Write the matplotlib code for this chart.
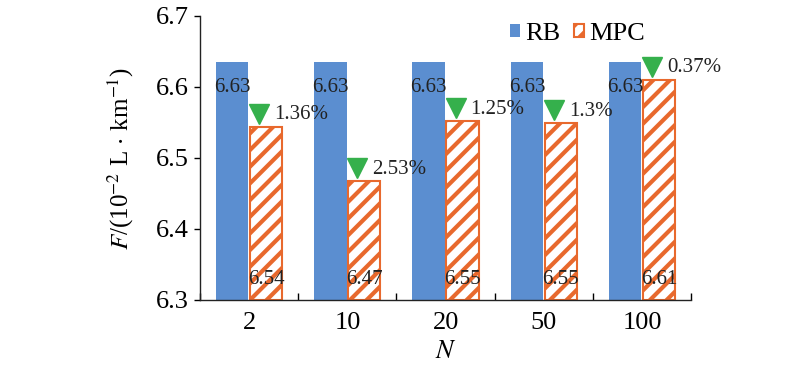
import matplotlib
matplotlib.use("Agg")
import matplotlib.pyplot as plt
import matplotlib.transforms as mtransforms
import numpy as np

# data
categories = ["2", "10", "20", "50", "100"]
rb_values = [6.635, 6.635, 6.635, 6.635, 6.635]
mpc_values = [6.544, 6.467, 6.552, 6.549, 6.610]
rb_labels = ["6.63", "6.63", "6.63", "6.63", "6.63"]
mpc_labels = ["6.54", "6.47", "6.55", "6.55", "6.61"]
savings = ["1.36%", "2.53%", "1.25%", "1.3%", "0.37%"]

blue = "#5B8ED0"
orange = "#E8692D"
green = "#35B04C"

plt.rcParams["font.family"] = ["Liberation Serif", "DejaVu Serif"]
plt.rcParams["mathtext.fontset"] = "stix"
plt.rcParams["hatch.linewidth"] = 3.0
plt.rcParams["hatch.color"] = orange

fig = plt.figure(figsize=(8, 3.71), dpi=100)
ax = fig.add_axes([0.25, 0.1914, 0.614, 0.7655])

x = np.arange(len(categories))
w = 0.33
off = 0.172

ax.bar(x - off, np.array(rb_values) - 6.3, w, bottom=6.3, color=blue, label="RB")
ax.bar(x + off, np.array(mpc_values) - 6.3, w, bottom=6.3, facecolor="white",
       edgecolor=orange, hatch="//", linewidth=1.5, label="MPC")

# value labels
for i in range(len(categories)):
    ax.annotate(rb_labels[i], (x[i] - off, rb_values[i]), xytext=(0, -25),
                textcoords="offset pixels", ha="center", va="center",
                fontsize=15, color="#222222")
    ax.annotate(mpc_labels[i], (x[i] + off, 6.3), xytext=(0, 20),
                textcoords="offset pixels", ha="center", va="center",
                fontsize=15, color="#222222")

# green down triangles with reduction percentages
tri_tr = mtransforms.offset_copy(ax.transData, fig=fig, x=0, y=13, units="dots")
ax.plot(x + off - 0.07, mpc_values, linestyle="none", marker="v", ms=15,
        color=green, transform=tri_tr, clip_on=False)
for i in range(len(categories)):
    ax.annotate(savings[i], (x[i] + off, mpc_values[i]), xytext=(8, 12),
                textcoords="offset pixels", ha="left", va="center",
                fontsize=15, color="#222222")

ax.set_xlim(-0.5, len(categories) - 0.5)
ax.set_ylim(6.3, 6.7)
ax.set_yticks([6.3, 6.4, 6.5, 6.6, 6.7])
ax.set_yticklabels(["6.3", "6.4", "6.5", "6.6", "6.7"])
ax.set_xticks(x)
ax.set_xticklabels(categories)
ax.set_xticks(np.arange(-0.5, len(categories)), minor=True)
ax.tick_params(axis="x", which="major", length=0, pad=9, labelsize=19)
ax.tick_params(axis="x", which="minor", direction="in", length=5, width=1)
ax.tick_params(axis="y", direction="out", length=4, width=1, labelsize=19, pad=4)

for s in ["top", "right"]:
    ax.spines[s].set_visible(False)
for s in ["left", "bottom"]:
    ax.spines[s].set_linewidth(1.0)
    ax.spines[s].set_color("#222222")

ax.set_xlabel(r"$N$", fontsize=19, labelpad=5)
ax.set_ylabel(r"$F$/(10$^{-2}$ L$\,\cdot\,$km$^{-1}$)", fontsize=18, labelpad=14)

ax.legend(loc="upper right", bbox_to_anchor=(0.955, 1.06), ncol=2, frameon=False,
          fontsize=19, handlelength=0.4, handleheight=0.4, handletextpad=0.2,
          columnspacing=0.5)

fig.savefig("out.png", dpi=100)
